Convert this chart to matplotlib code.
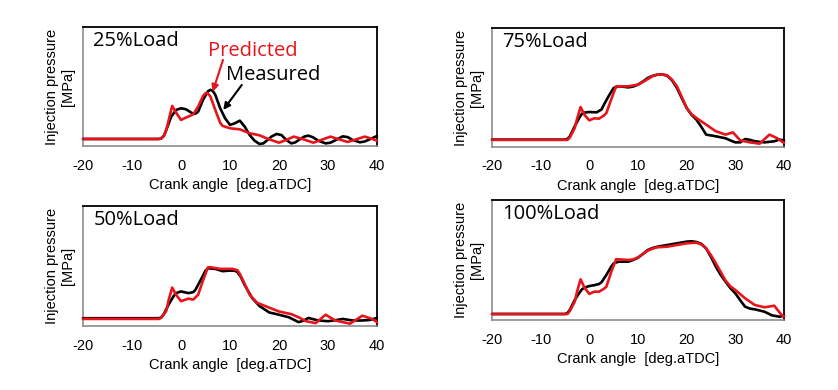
import matplotlib
matplotlib.use("Agg")
import matplotlib.pyplot as plt

# ---------------- data (arbitrary pressure units, 0-100 of axis height) ----------------
# 25% load
x25_meas = [-20, -4.5, -4, -3.5, -3, -2, -1, 0, 1, 2, 2.5, 3, 3.5, 4.5, 5.5, 6, 6.5, 7, 8, 9,
            10, 11, 12, 13, 14, 15, 16, 16.8, 17.5, 18.5, 19.5, 20.5, 21.5, 22.5, 23.3, 24.2,
            25.2, 26, 27, 28, 29.5, 30.5, 31.5, 33, 34, 35, 36.5, 37.5, 38.5, 40]
y25_meas = [5.9, 5.9, 6.5, 8.5, 13.5, 24.7, 30.3, 31.7, 30.9, 28.3, 27.0, 27.3, 28.9, 38.8,
            46.0, 47.2, 46.2, 43.0, 31.7, 23.3, 17.7, 19.1, 21.3, 16.3, 9.3, 4.5, 1.7, 2.2,
            4.5, 8.0, 10.1, 9.2, 5.0, 2.2, 3.0, 5.5, 8.0, 8.7, 7.2, 4.5, 2.2, 2.8, 4.8, 8.1,
            7.5, 5.1, 3.1, 3.8, 5.6, 8.4]
x25_pred = [-20, -4.5, -4, -3.5, -3, -2.5, -1.8, -1, 0, 1, 2, 2.5, 3.5, 4.5, 5, 5.5, 6, 7,
            8, 8.5, 10, 12, 14, 16, 18, 20, 21.5, 23, 25, 27, 29, 30.5, 32, 34, 36, 37.5, 39, 40]
y25_pred = [5.9, 5.9, 6.5, 8.5, 13.5, 22.0, 33.7, 28.1, 21.9, 23.9, 25.6, 26.7, 33.1, 42.0,
            44.4, 44.0, 41.6, 30.3, 19.5, 16.9, 14.9, 14.0, 10.7, 9.0, 5.6, 2.8, 5.1, 7.9,
            5.6, 2.8, 5.6, 7.9, 5.9, 3.4, 5.9, 7.9, 6.0, 4.5]

# 75% load
x75_meas = [-20, -5, -4.5, -4, -3, -2, -1.5, -1, 0, 1.5, 2.5, 3, 4, 5, 6, 7, 8, 9, 10, 11, 12,
            13, 14, 15, 16, 17, 18, 19, 20, 21, 22, 23, 24, 26, 28, 29, 30, 31, 32, 33, 34, 36,
            38, 39, 40]
y75_meas = [6.2, 6.2, 6.8, 9.0, 17.4, 25.0, 28.0, 28.9, 29.4, 29.1, 31.5, 35.6, 43.0, 49.6,
            51.0, 50.6, 50.1, 50.8, 52.4, 55.0, 58.0, 59.8, 60.8, 61.0, 59.9, 56.0, 49.6, 41.0,
            32.8, 27.0, 23.0, 17.0, 10.4, 9.0, 7.3, 5.5, 3.9, 3.9, 6.7, 6.0, 4.8, 3.9, 4.8,
            6.2, 5.6]
x75_pred = [-20, -4.5, -4, -3, -2.5, -1.8, -1, 0, 1, 2, 3, 3.5, 4.5, 5.5, 6, 8, 10, 11, 12, 13,
            14, 15, 16, 17, 18, 19, 20, 21, 22, 24, 26, 28, 29.5, 31, 33, 35, 37, 38.5, 40]
y75_pred = [6.0, 6.0, 8.0, 16.0, 24.0, 33.6, 27.0, 22.4, 24.1, 23.8, 26.5, 28.6, 40.0, 51.0,
            51.0, 51.0, 52.4, 54.6, 57.1, 59.5, 60.8, 61.0, 60.2, 56.5, 51.0, 42.0, 32.8, 27.5,
            24.4, 18.8, 13.2, 10.4, 12.3, 5.6, 3.9, 2.8, 10.4, 7.6, 3.4]

# 50% load
x50_meas = [-20, -4.5, -4, -3.5, -2.5, -1.5, -1, 0, 1.5, 2.5, 3, 4, 5, 5.5, 7, 8.5, 10, 11,
            11.5, 12.2, 13, 14.5, 16, 18, 20, 22, 24, 25, 26, 28, 30, 31.5, 33, 35, 37, 38.5, 40]
y50_meas = [6.5, 6.5, 7.2, 10.0, 18.0, 25.0, 27.4, 28.8, 27.4, 28.2, 30.5, 38.2, 46.0, 48.1,
            47.6, 45.7, 46.2, 46.0, 44.9, 41.0, 34.1, 23.4, 16.7, 11.3, 9.4, 7.3, 3.2, 4.5,
            6.7, 4.6, 4.0, 4.8, 5.9, 4.6, 4.6, 5.0, 6.7]
x50_pred = [-20, -4.5, -4, -3, -2.5, -1.8, -1, 0, 1.5, 2.5, 3.5, 4.5, 5.5, 6, 8, 10.5, 11.5,
            12, 13, 14, 15.5, 18, 20, 22.5, 24, 25.5, 27.5, 29.5, 31.5, 34.5, 37, 39, 40]
y50_pred = [5.9, 5.9, 7.0, 12.6, 22.0, 32.0, 26.0, 20.7, 22.8, 22.0, 26.1, 38.0, 48.9, 49.0,
            47.6, 47.6, 46.5, 43.5, 35.0, 26.1, 19.4, 15.3, 12.1, 9.9, 7.3, 4.0, 2.4, 9.4,
            4.6, 1.9, 8.6, 5.9, 3.2]

# 100% load
x100_meas = [-20, -5, -4.5, -4, -3, -2, -1.5, -1, 0, 1, 2, 2.5, 3.5, 4.5, 5, 6, 8, 9, 10, 11,
             12, 13, 14, 16, 18, 20, 21, 22, 23, 24, 25, 26, 27, 28, 29, 30, 31, 32, 33, 34,
             36, 37.5, 39, 40]
y100_meas = [5.0, 5.0, 5.8, 8.5, 16.7, 23.0, 25.6, 27.0, 28.3, 29.0, 30.0, 31.5, 37.5, 44.5,
             47.2, 48.6, 48.6, 50.0, 51.9, 55.0, 58.3, 60.0, 61.1, 62.5, 63.9, 65.3, 65.6,
             65.0, 63.5, 59.7, 52.5, 44.4, 37.5, 31.9, 26.5, 22.2, 16.5, 11.1, 9.5, 8.9,
             6.9, 3.9, 2.8, 3.3]
x100_pred = [-20, -4.5, -4, -3, -2.5, -1.8, -1, 0, 1, 2, 3, 3.5, 4.5, 5.5, 6, 8, 9, 10, 11,
             12, 13, 14, 16, 18, 20, 21, 22, 23, 24, 25, 26, 27, 28, 29, 30, 32, 34, 36, 38,
             39.5, 40]
y100_pred = [5.0, 5.0, 7.5, 15.3, 24.0, 33.9, 27.0, 21.7, 23.6, 23.6, 26.0, 27.8, 40.0, 50.6,
             50.6, 50.0, 50.5, 52.2, 55.0, 57.8, 59.5, 60.6, 61.1, 62.5, 63.9, 64.2, 64.4,
             63.0, 59.7, 54.0, 47.2, 40.0, 32.8, 28.0, 25.0, 18.1, 12.5, 10.6, 11.9, 4.2, 2.8]

panel_titles = ["25%Load", "75%Load", "50%Load", "100%Load"]
x_ticks = [-20, -10, 0, 10, 20, 30, 40]
x_label = "Crank angle  [deg.aTDC]"
y_label = "Injection pressure\n[MPa]"

# ---------------- figure ----------------
W, H = 838, 390
fig = plt.figure(figsize=(W / 100, H / 100), dpi=100)

def box(l, t, r, b):
    return [l / W, 1 - b / H, (r - l) / W, (b - t) / H]

rects = [box(83, 27, 377, 146), box(492, 28, 784, 147),
         box(83, 206, 377, 326), box(492, 200, 784, 320)]
series = [(x25_meas, y25_meas, x25_pred, y25_pred),
          (x75_meas, y75_meas, x75_pred, y75_pred),
          (x50_meas, y50_meas, x50_pred, y50_pred),
          (x100_meas, y100_meas, x100_pred, y100_pred)]

RED = "#e8141b"
axes = []
for rect, (xm, ym, xp, yp), title in zip(rects, series, panel_titles):
    ax = fig.add_axes(rect)
    ax.plot(xm, ym, color="black", lw=1.9, solid_joinstyle="round",
            solid_capstyle="round", zorder=3, clip_on=False)
    ax.plot(xp, yp, color=RED, lw=1.9, solid_joinstyle="round",
            solid_capstyle="round", zorder=4, clip_on=False)
    ax.set_xlim(-20, 40)
    ax.set_ylim(0, 100)
    ax.set_xticks(x_ticks)
    ax.set_xticklabels([str(t) for t in x_ticks], fontsize=10.5, family="Liberation Sans")
    ax.set_yticks([])
    ax.tick_params(axis="x", length=0, pad=9)
    for s in ("left", "bottom"):
        ax.spines[s].set_color("#8c8c8c")
        ax.spines[s].set_linewidth(1.2)
    for s in ("top", "right"):
        ax.spines[s].set_color("black")
        ax.spines[s].set_linewidth(1.3)
    ax.set_xlabel(x_label, fontsize=10.5, family="Liberation Sans", labelpad=4)
    ax.set_ylabel(y_label, fontsize=10.5, family="Liberation Sans", labelpad=6,
                  linespacing=1.15)
    ax.text(0.035, 0.84, title, transform=ax.transAxes, fontsize=14.5,
            family="Open Sans", va="baseline", ha="left")
    axes.append(ax)

ax0 = axes[0]
ax0.text(14.7, 75.6, "Predicted", color=RED, fontsize=14.5, family="Open Sans",
         ha="center", va="baseline")
ax0.text(18.8, 55.5, "Measured", color="black", fontsize=14.5, family="Open Sans",
         ha="center", va="baseline")
ax0.annotate("", xy=(6.47, 45.6), xytext=(8.57, 72.3),
             arrowprops=dict(arrowstyle="-|>", color=RED, lw=1.5,
                             mutation_scale=10, shrinkA=0, shrinkB=0))
ax0.annotate("", xy=(8.63, 30.3), xytext=(12.4, 51.3),
             arrowprops=dict(arrowstyle="-|>", color="black", lw=1.5,
                             mutation_scale=10, shrinkA=0, shrinkB=0))

fig.savefig("out.png", dpi=100)
